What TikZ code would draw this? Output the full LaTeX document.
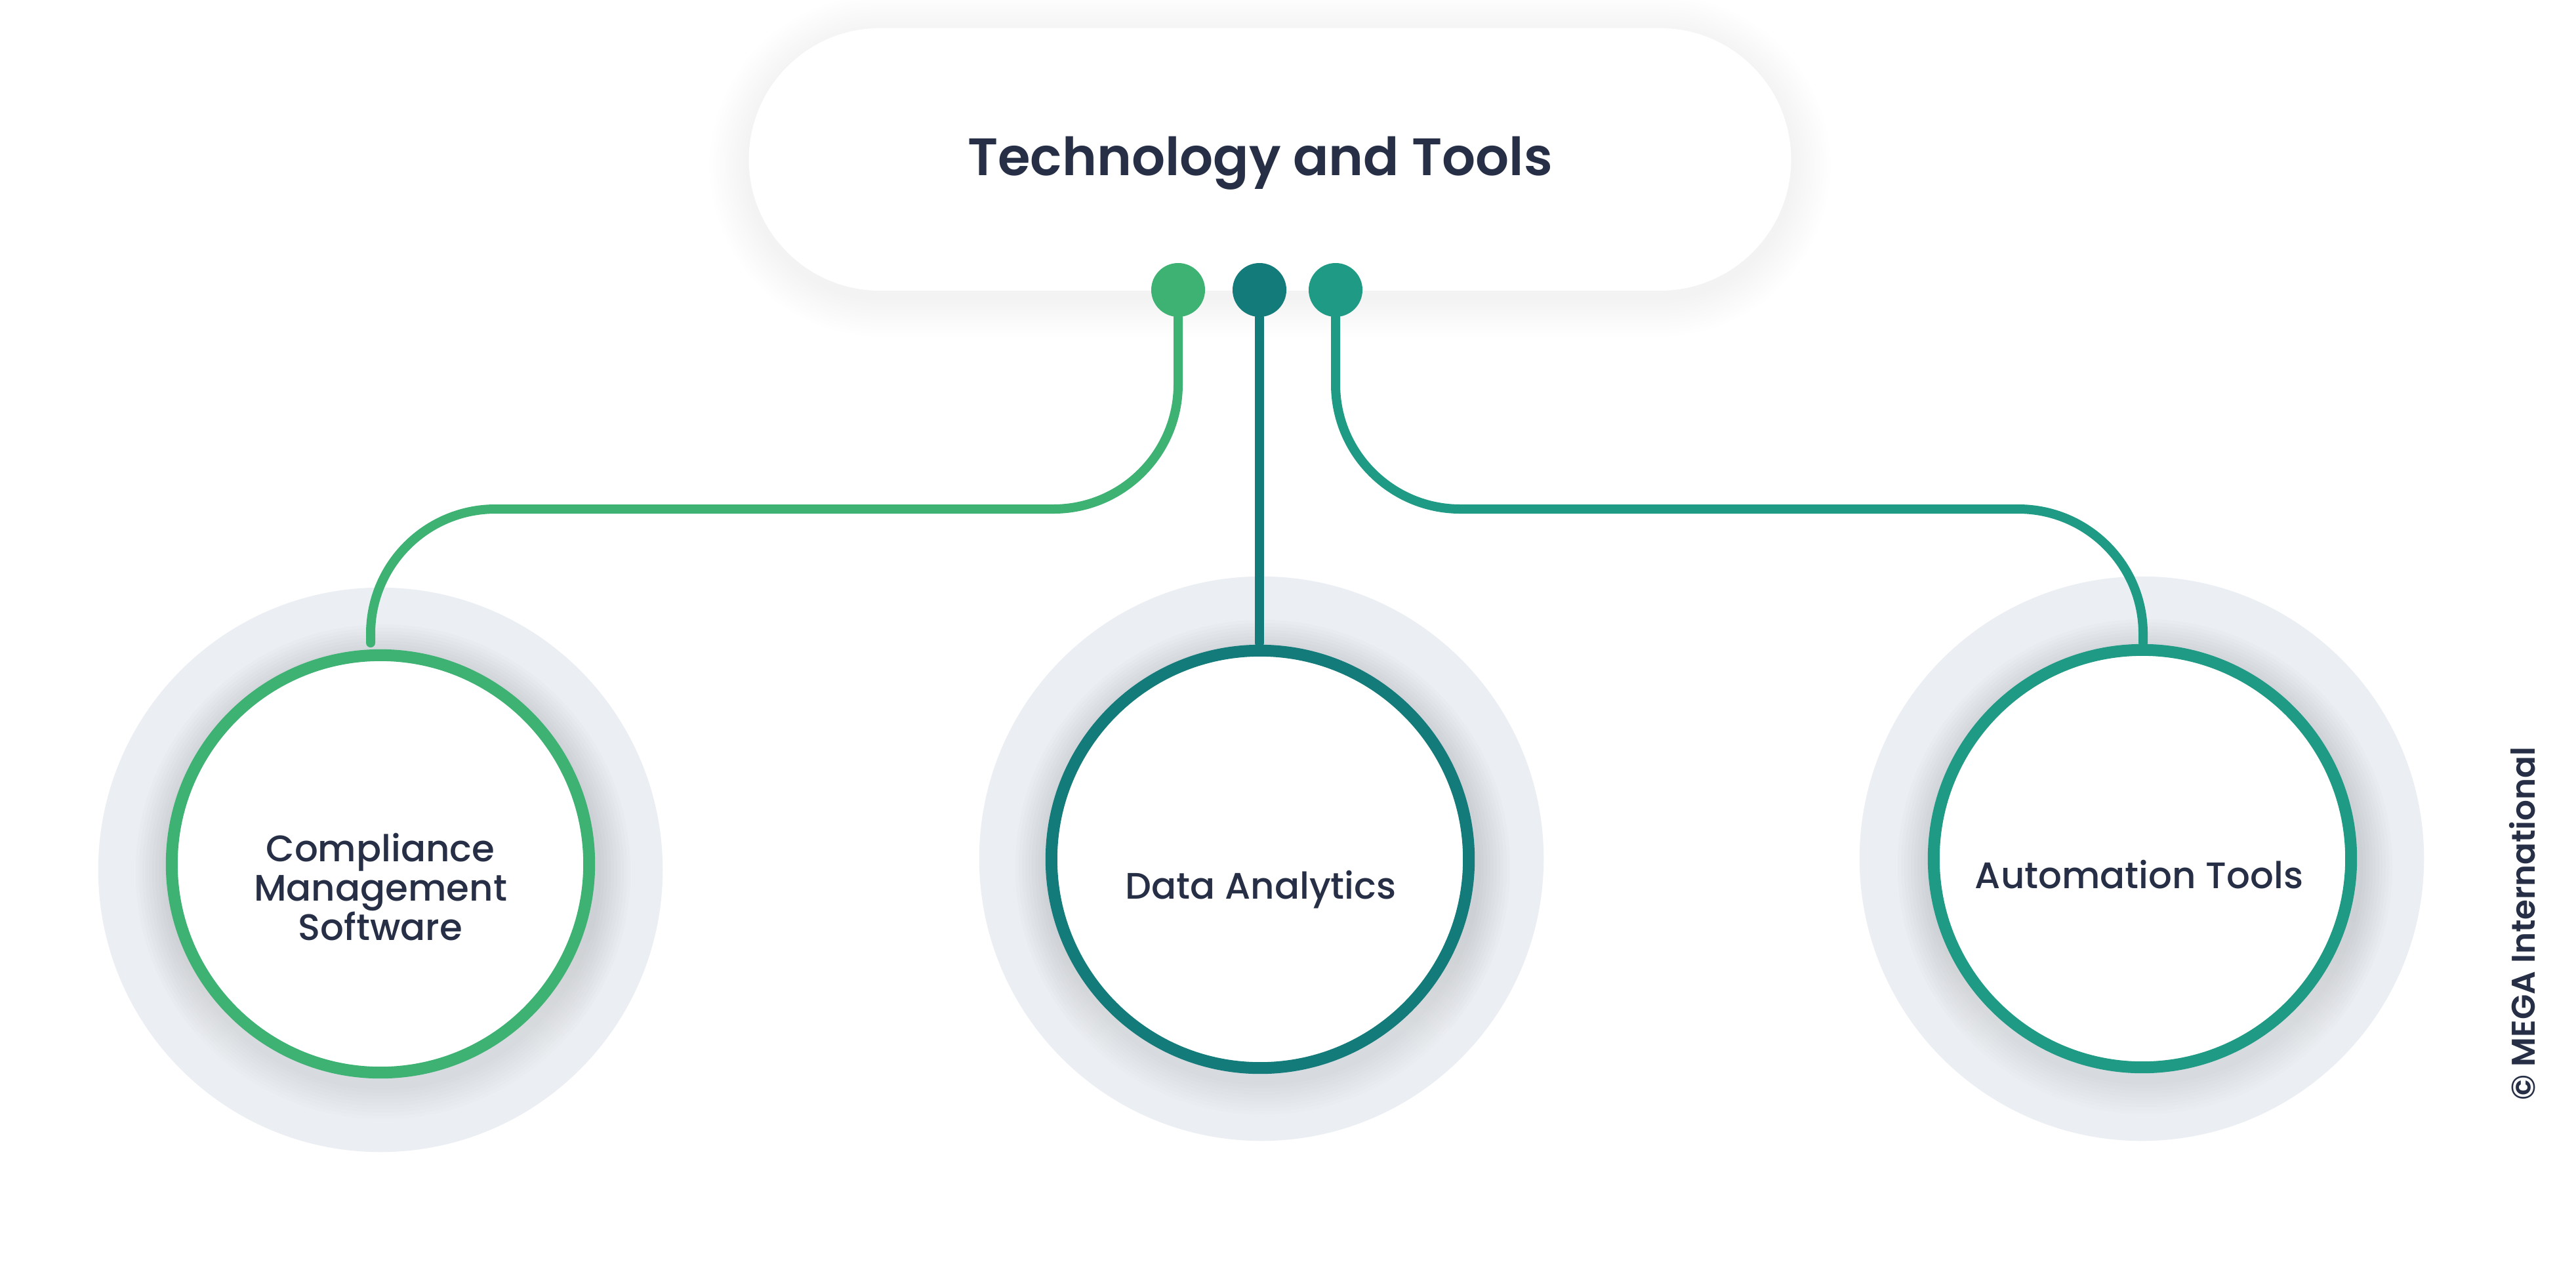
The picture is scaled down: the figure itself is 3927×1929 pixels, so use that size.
\documentclass[tikz,border=0pt]{standalone}
\usepackage{fontspec}
\setmainfont{Poppins}[UprightFont={* SemiBold}]
\newfontfamily\pmed{Poppins}[UprightFont={* Medium}]
\definecolor{cA}{HTML}{3DB273}
\definecolor{cB}{HTML}{137B7A}
\definecolor{cC}{HTML}{1F9A85}
\definecolor{ink}{HTML}{262F45}
\definecolor{halo}{HTML}{EBEFF4}
\definecolor{shade}{HTML}{8A9AB0}
\tikzset{
  bgdisc/.style={circle, fill=halo, minimum size=8.6cm, inner sep=0pt},
  ring/.style={circle, draw=#1, line width=0.18cm, fill=white, minimum size=6.36cm, inner sep=0pt},
  dotnode/.style={circle, fill=#1, minimum size=0.82cm, inner sep=0pt},
  conn/.style={draw=#1, line width=0.14cm, line cap=round, rounded corners=1.9cm},
  pill/.style={rectangle, fill=white, rounded corners=2cm, minimum width=15.88cm, minimum height=4cm, inner sep=0pt},
  titletxt/.style={text=ink, font=\fontsize{22.8pt}{27pt}\selectfont, inner sep=0pt},
  itemtxt/.style={text=ink, font=\pmed\fontsize{16pt}{17pt}\selectfont, align=center, inner sep=0pt},
  copytxt/.style={text=ink, font=\fontsize{14.2pt}{16pt}\selectfont, inner sep=0pt, rotate=90}
}
\begin{document}
\begin{tikzpicture}[x=0.01cm, y=-0.01cm]
\fill[white] (0,0) rectangle (3927,1929);
\useasboundingbox (0,0) rectangle (3927,1929);

% background discs
\node[bgdisc] (bg1) at (580,1326) {};
\node[bgdisc] (bg2) at (1923,1309) {};
\node[bgdisc] (bg3) at (3265,1309) {};

% soft shadows of the rings
\foreach \cx/\cy in {580/1317, 1921/1310, 3266/1309} {
  \foreach \i in {1,...,10} {
    \pgfmathsetmacro{\rr}{3.27+0.05*\i}
    \fill[shade, opacity=0.0065] (\cx+4,\cy+12) circle [radius=\rr cm];
  }
}

% rings
\node[ring=cA] (ring1) at (580,1317) {};
\node[ring=cB] (ring2) at (1921,1310) {};
\node[ring=cC] (ring3) at (3266,1309) {};

% pill shadow
\foreach \i in {1,...,12} {
  \pgfmathsetmacro{\d}{5*\i}
  \pgfmathsetmacro{\rc}{(200+\d)*0.01}
  \fill[black, opacity=0.005, rounded corners=\rc cm] (1142-\d,43-\d+10) rectangle (2730+\d,443+\d+10);
}
\node[pill] (title) at (1936,243) {};
\node[titletxt, anchor=base] (titletext) at (1921,267) {Technology and Tools};

% dots
\node[dotnode=cA] (d1) at (1796,442) {};
\node[dotnode=cB] (d2) at (1920,442) {};
\node[dotnode=cC] (d3) at (2036,442) {};

% connector end points
\coordinate (e1) at (565,980);
\coordinate (e2) at (1920,980);
\coordinate (e3) at (3267,980);

\draw[conn=cA] (d1.south) -- (1796,776) -- (565,776) -- (e1);
\draw[conn=cB] (d2.south) -- (e2);
\draw[conn=cC] (d3.south) -- (2036,776) -- (3267,776) -- (e3);

% labels
\node[itemtxt, anchor=center] (t1) at (580,1352) {Compliance\\Management\\Software};
\node[itemtxt, anchor=base] (t2) at (1922,1370) {Data Analytics};
\node[itemtxt, anchor=base] (t3) at (3261,1354) {Automation Tools};

\node[copytxt, anchor=base] (copy) at (3864,1408) {© MEGA International};
\end{tikzpicture}
\end{document}
